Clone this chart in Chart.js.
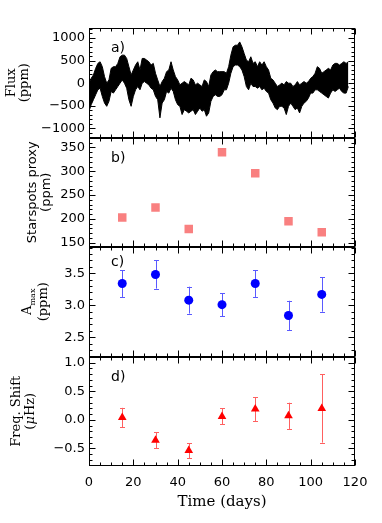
<!DOCTYPE html>
<html><head><meta charset="utf-8">
<script src="https://cdn.jsdelivr.net/npm/chart.js@4/dist/chart.umd.min.js"></script>
<style>html,body{margin:0;padding:0;background:#fff}#wrap{width:382px;height:523px;position:relative}</style>
</head><body><div id="wrap"><canvas id="c" width="382" height="523"></canvas></div>
<script>
// ---- data ----
const fluxTime  = [0,1,2,3,4,5,6,7,8,9,10,11,12,13,14,15,16,17,18,19,20,21,22,23,24,25,26,27,28,29,30,31,32,33,34,35,36,37,38,39,40,41,42,43,44,45,46,47,48,49,50,51,52,53,54,55,56,57,58,59,60,61,62,63,64,65,66,67,68,69,70,71,72,73,74,75,76,77,78,79,80,81,82,83,84,85,86,87,88,89,90,91,92,93,94,95,96,97,98,99,100,101,102,103,104,105,106,107,108,109,110,111,112,113,114,115,116,117];
const fluxUpper = [0,109,182,328,438,474,365,146,0,73,328,365,365,438,584,620,620,547,365,182,292,401,474,292,547,547,511,474,401,438,219,73,-73,36,109,255,292,474,292,146,73,-37,0,36,0,-37,109,73,-37,0,-37,-73,73,36,-73,182,255,292,255,255,255,255,219,365,620,803,839,839,912,803,657,511,474,584,438,474,365,474,401,474,365,292,109,73,0,-73,-37,0,-37,36,0,0,-73,-37,36,-37,0,36,0,36,109,146,219,365,328,219,255,292,328,292,401,438,438,401,438,474,438,474];
const fluxLower = [-620,-474,-365,-255,-146,-110,-292,-438,-511,-401,-182,-219,-146,-73,0,73,0,-110,-365,-511,-292,-146,-73,-146,0,36,0,-37,-110,-146,-292,-365,-766,-438,-365,-182,-219,-110,-182,-365,-474,-511,-693,-584,-620,-657,-620,-584,-693,-620,-547,-620,-584,-730,-657,-401,-292,-255,-292,-292,-255,-146,-146,0,219,365,401,401,365,292,146,-73,-146,0,-73,-73,-110,-73,-146,-110,-182,-219,-365,-438,-547,-584,-511,-511,-547,-693,-511,-438,-511,-584,-547,-657,-511,-438,-401,-328,-219,-219,-146,-146,-182,-219,-255,-292,-328,-219,-146,-182,-146,-110,-182,-219,-219,-73];
const binTime   = [15,30,45,60,75,90,105];
const spotProxy = [203,224,179,340,296,195,172];
const amax      = [3.34,3.48,3.08,3.01,3.34,2.84,3.17];
const amaxErr   = [0.21,0.22,0.21,0.18,0.21,0.23,0.27];
const freqShift = [0.04,-0.36,-0.54,0.06,0.19,0.07,0.20];
const freqErr   = [0.17,0.14,0.13,0.14,0.21,0.23,0.60];
const xTicks    = [0,20,40,60,80,100,120];
const fluxTicks = [-1000,-500,0,500,1000];
const spotTicks = [150,200,250,300,350];
const amaxTicks = [2.5,3.0,3.5];
const freqTicks = [-0.5,0.0,0.5,1.0];
const panelLabels = ['a)','b)','c)','d)'];

const pts = (xs, ys) => xs.map((x,i)=>({x:x, y:ys[i]}));
const minus = s => String(s).replace('-', '\u2212');
const TICKFONT = {family:'DejaVu Sans', size:13};

function yScale(id, min, max, ticks, weight, fmt){
  return {
    type:'linear', position:'left', stack:'panels', stackWeight:1, weight:weight,
    min:min, max:max,
    afterBuildTicks: s => { s.ticks = ticks.map(v=>({value:v})); },
    afterFit: s => { s.width = 89; },
    grid:{display:false, drawTicks:false}, border:{display:false},
    ticks:{font:TICKFONT, color:'#000', padding:4, autoSkip:false, callback: v => minus(fmt(v))}
  };
}

const panelMeta = [
  {id:'yA', minor:100, labelY:20},
  {id:'yB', minor:10, labelY:21},
  {id:'yC', minor:0.1, labelY:15},
  {id:'yD', minor:0.1, labelY:21}
];

const framePlugin = {
  id:'frames',
  afterDraw(chart){
    const ctx = chart.ctx, xs = chart.scales.x;
    const L = Math.round(xs.left)+0.5, R = Math.round(xs.right)-0.5;
    ctx.save();
    ctx.strokeStyle = '#000'; ctx.lineWidth = 1;
    panelMeta.forEach((p, k) => {
      const ys = chart.scales[p.id];
      const T = Math.round(ys.top)+0.5, B = Math.round(ys.bottom)-0.5;
      ctx.strokeRect(L, T, R-L, B-T);
      ctx.beginPath();
      for (let v = 0; v <= 120 + 1e-9; v += 5) {
        const px = Math.round(xs.getPixelForValue(v))+0.5;
        const len = (v % 20 === 0) ? 6 : 3;
        ctx.moveTo(px, T); ctx.lineTo(px, T+len);
        ctx.moveTo(px, B); ctx.lineTo(px, B-len);
      }
      const majors = chart.options.scales[p.id]._majors;
      const mn = ys.min, mx = ys.max;
      const start = Math.ceil(mn/p.minor - 1e-6);
      const end = Math.floor(mx/p.minor + 1e-6);
      for (let i = start; i <= end; i++) {
        const v = i*p.minor;
        const isMajor = majors.some(m => Math.abs(m - v) < p.minor*0.01);
        const py = Math.round(ys.getPixelForValue(v))+0.5;
        const len = isMajor ? 6 : 3;
        ctx.moveTo(L, py); ctx.lineTo(L+len, py);
        ctx.moveTo(R, py); ctx.lineTo(R-len, py);
      }
      ctx.stroke();
      ctx.fillStyle = '#000';
      ctx.font = '14px "DejaVu Sans"';
      ctx.textAlign = 'left'; ctx.textBaseline = 'middle';
      ctx.fillText(panelLabels[k], 111, ys.top + p.labelY);
    });
    ctx.restore();
  }
};

const errPlugin = {
  id:'errbars',
  beforeDatasetsDraw(chart){
    const ctx = chart.ctx, xs = chart.scales.x;
    const sets = [
      {ys: chart.scales.yC, v: amax, e: amaxErr, c:'#5a5aff'},
      {ys: chart.scales.yD, v: freqShift, e: freqErr, c:'#ff6060'}
    ];
    ctx.save(); ctx.lineWidth = 1;
    sets.forEach(s => {
      ctx.strokeStyle = s.c; ctx.beginPath();
      binTime.forEach((t,i) => {
        const px = Math.round(xs.getPixelForValue(t))+0.5;
        const y1 = s.ys.getPixelForValue(s.v[i]+s.e[i]);
        const y2 = s.ys.getPixelForValue(s.v[i]-s.e[i]);
        ctx.moveTo(px, y1); ctx.lineTo(px, y2);
        ctx.moveTo(px-2.5, Math.round(y1)+0.5); ctx.lineTo(px+2.5, Math.round(y1)+0.5);
        ctx.moveTo(px-2.5, Math.round(y2)+0.5); ctx.lineTo(px+2.5, Math.round(y2)+0.5);
      });
      ctx.stroke();
    });
    ctx.restore();
  }
};

const titles = [
  {id:'yA', font:'DejaVu Serif', size:13, lines:[{x:12, segs:[{t:'Flux'}]}, {x:25, segs:[{t:'(ppm)'}]}]},
  {id:'yB', font:'DejaVu Sans', size:13, lines:[{x:33, segs:[{t:'Starspots proxy'}]}, {x:47, segs:[{t:'(ppm)'}]}]},
  {id:'yC', font:'DejaVu Serif', size:13, lines:[{x:28, segs:[{t:'A'},{t:'max', sub:true}]}, {x:44, segs:[{t:'(ppm)'}]}]},
  {id:'yD', font:'DejaVu Serif', size:13, lines:[{x:17, segs:[{t:'Freq. Shift'}]}, {x:31, segs:[{t:'('},{t:'\u03bc', italic:true},{t:'Hz)'}]}]}
];
const titlePlugin = {
  id:'ytitles',
  afterDraw(chart){
    const ctx = chart.ctx;
    ctx.save(); ctx.fillStyle = '#000'; ctx.textBaseline = 'middle'; ctx.textAlign = 'left';
    titles.forEach(tt => {
      const ys = chart.scales[tt.id];
      const cy = (ys.top + ys.bottom)/2;
      tt.lines.forEach(line => {
        ctx.save();
        ctx.translate(line.x, cy); ctx.rotate(-Math.PI/2);
        const m = line.segs.map(s => {
          const sz = s.sub ? tt.size*0.62 : tt.size;
          const f = (s.italic?'italic ':'') + sz + 'px "' + tt.font + '"';
          ctx.font = f;
          return {s, f, w: ctx.measureText(s.t).width};
        });
        let x = -m.reduce((a,b)=>a+b.w,0)/2;
        m.forEach(o => { ctx.font = o.f; ctx.fillText(o.s.t, x, o.s.sub ? tt.size*0.35 : 0); x += o.w; });
        ctx.restore();
      });
    });
    ctx.restore();
  }
};

const scales = {
  x: {
    type:'linear', position:'bottom', min:0, max:120,
    afterBuildTicks: s => { s.ticks = xTicks.map(v=>({value:v})); },
    afterFit: s => { s.height = 57; },
    grid:{display:false, drawTicks:false}, border:{display:false},
    ticks:{font:TICKFONT, color:'#000', padding:9, maxRotation:0, autoSkip:false},
    title:{display:true, text:'Time (days)', color:'#000', font:{family:'DejaVu Serif', size:15}, padding:{top:3, bottom:12}}
  },
  yA: yScale('yA', -1200, 1220, fluxTicks, 4, v => String(v)),
  yB: yScale('yB', 141, 371, spotTicks, 3, v => String(v)),
  yC: yScale('yC', 2.2, 3.91, amaxTicks, 2, v => v.toFixed(1)),
  yD: yScale('yD', -0.81, 1.11, freqTicks, 1, v => v.toFixed(1))
};
scales.yA._majors = fluxTicks; scales.yB._majors = spotTicks; scales.yC._majors = amaxTicks; scales.yD._majors = freqTicks;

new Chart(document.getElementById('c'), {
  type:'line',
  data:{ datasets:[
    {data:pts(fluxTime, fluxUpper), xAxisID:'x', yAxisID:'yA', fill:'+1', backgroundColor:'#000', borderColor:'#000', borderWidth:1, pointRadius:0, tension:0},
    {data:pts(fluxTime, fluxLower), xAxisID:'x', yAxisID:'yA', fill:false, borderColor:'#000', borderWidth:1, pointRadius:0, tension:0},
    {data:pts(binTime, spotProxy), xAxisID:'x', yAxisID:'yB', showLine:false, pointStyle:'rect', pointRadius:6, backgroundColor:'#f98080', borderWidth:0},
    {data:pts(binTime, amax), xAxisID:'x', yAxisID:'yC', showLine:false, pointStyle:'circle', pointRadius:4.5, backgroundColor:'#0000ff', borderWidth:0},
    {data:pts(binTime, freqShift), xAxisID:'x', yAxisID:'yD', showLine:false, pointStyle:'triangle', pointRadius:5, backgroundColor:'#ff0000', borderWidth:0}
  ]},
  options:{
    responsive:false, devicePixelRatio:1, animation:false,
    layout:{padding:{left:0, right:27, top:28, bottom:0}},
    plugins:{legend:{display:false}, tooltip:{enabled:false}},
    scales: scales
  },
  plugins:[errPlugin, framePlugin, titlePlugin]
});
</script></body></html>
